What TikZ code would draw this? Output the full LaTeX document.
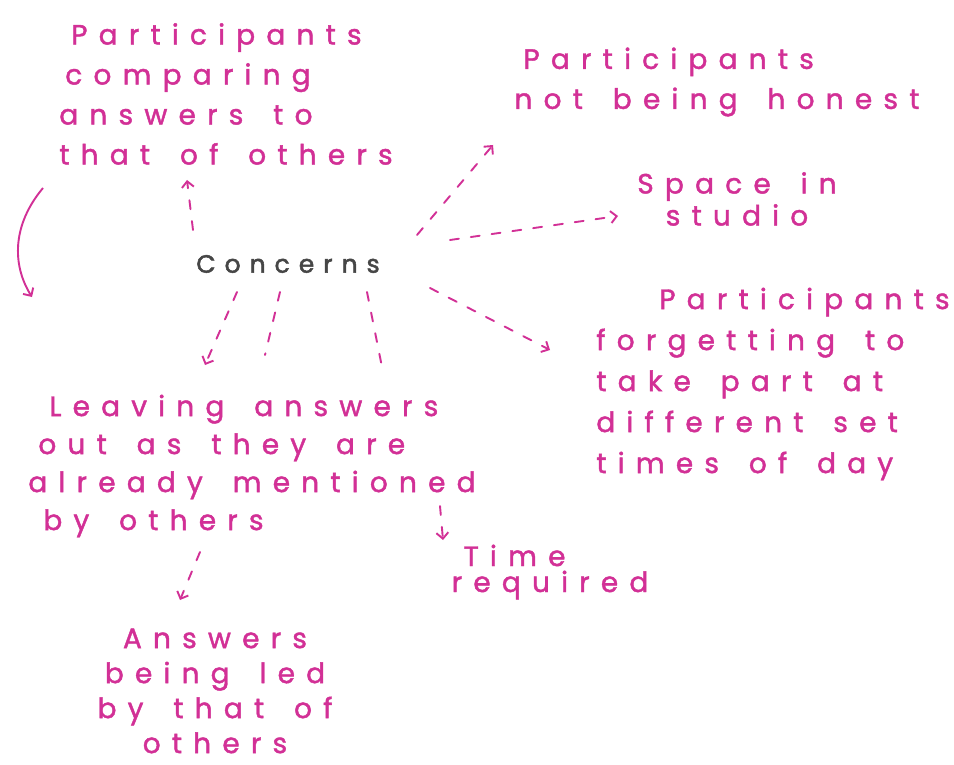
\documentclass[tikz,border=0pt]{standalone}
\usepackage{fontspec}
\usetikzlibrary{arrows.meta}
\newfontfamily\hand[LetterSpace=40,WordSpace=1.6,FakeBold=1.5]{Poppins}
\newfontfamily\handc[LetterSpace=36,FakeBold=2]{Poppins}
\definecolor{ink}{RGB}{210,48,150}
\definecolor{pencil}{RGB}{70,70,70}
\tikzset{
  txt/.style={text=ink, inner sep=0pt, font=\hand\fontsize{28}{40}\selectfont},
  dsh/.style={draw=ink, line width=1.9pt, dash pattern=on 9pt off 12pt, line cap=round},
  arr/.style={dsh, -{Straight Barb[length=6pt,width=12pt,line width=1.9pt]}},
}
\begin{document}
\begin{tikzpicture}[x=1pt,y=-1pt]
\useasboundingbox[fill=white] (0,0) rectangle (954,765);
% nodes
\node[text=pencil, inner sep=0pt, font=\handc\fontsize{25}{30}\selectfont] (c) at (288,264) {Concerns};
\node[txt, align=left] (tl) at (226,94) {\hspace*{12pt}Participants\\\hspace*{6pt}comparing\\answers to\\that of others};
\node[txt, align=left] (honest) at (717,82) {\hspace*{9pt}Participants\\not being honest};
\node[txt, align=center, font=\hand\fontsize{28}{32}\selectfont] (space) at (737,199) {Space in\\studio};
\node[txt, align=left, font=\hand\fontsize{28}{41}\selectfont] (forget) at (773,384) {\hspace*{63pt}Participants\\forgetting to\\take part at\\different set\\times of day};
\node[txt, align=left, font=\hand\fontsize{28}{38}\selectfont] (leaving) at (252,466) {\hspace*{21pt}Leaving answers\\\hspace*{10pt}out as they are\\already mentioned\\\hspace*{15pt}by others};
\node[txt, align=left, font=\hand\fontsize{28}{26}\selectfont] (time) at (550,572) {\hspace*{12pt}Time\\required};
\node[txt, align=center, font=\hand\fontsize{28}{35}\selectfont] (answers) at (215,691) {Answers\\being led\\by that of\\others};
% connectors
\draw[arr] ([shift={(-95,-34)}]c.center) -- ([shift={(-39,86)}]tl.center);
\draw[arr] ([shift={(129,-29)}]c.center) -- ([shift={(-224,63)}]honest.center);
\draw[arr] ([shift={(162,-24)}]c.center) -- ([shift={(-119,17)}]space.center);
\draw[arr] ([shift={(142,24)}]c.center) -- ([shift={(-223,-34)}]forget.center);
\draw[arr] ([shift={(-51,28)}]c.center) -- ([shift={(-47,-101)}]leaving.center);
\draw[dsh] ([shift={(-8,28)}]c.center) -- ([shift={(13,-111)}]leaving.center);
\draw[dsh] ([shift={(79,28)}]c.center) -- ([shift={(131,-94)}]leaving.center);
\draw[arr] ([shift={(188,40)}]leaving.center) -- ([shift={(-107,-32)}]time.center);
\draw[arr] ([shift={(-52,86)}]leaving.center) -- ([shift={(-35,-91)}]answers.center);
% free curved arrow on the left
\coordinate (cs) at (43,188);
\coordinate (ce) at (32,297);
\draw[draw=ink, line width=1.9pt, -{Straight Barb[length=6pt,width=12pt,line width=1.9pt]}] (cs) .. controls (12,225) and (12,265) .. (ce);
\end{tikzpicture}
\end{document}
